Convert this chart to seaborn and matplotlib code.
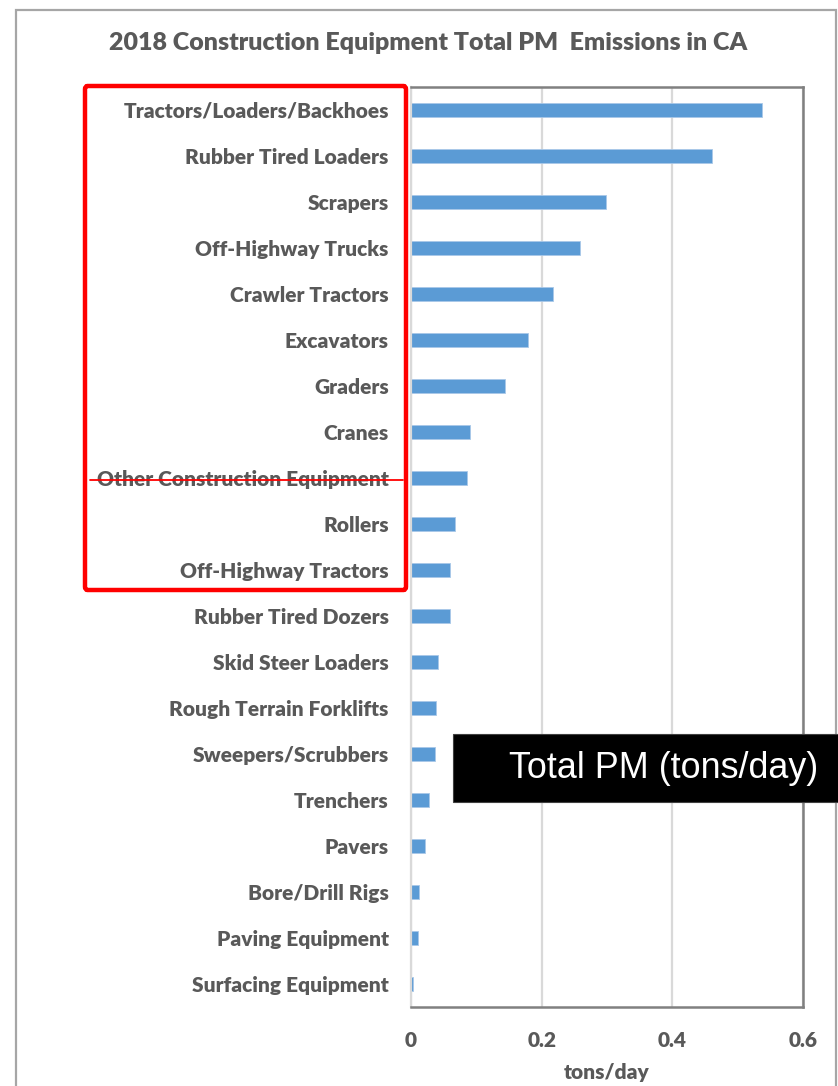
import matplotlib
matplotlib.use("Agg")
import matplotlib.pyplot as plt
import seaborn as sns
import pandas as pd
from matplotlib.patches import Rectangle, FancyBboxPatch
from matplotlib.lines import Line2D

categories = [
    "Tractors/Loaders/Backhoes", "Rubber Tired Loaders", "Scrapers",
    "Off-Highway Trucks", "Crawler Tractors", "Excavators", "Graders",
    "Cranes", "Other Construction Equipment", "Rollers",
    "Off-Highway Tractors", "Rubber Tired Dozers", "Skid Steer Loaders",
    "Rough Terrain Forklifts", "Sweepers/Scrubbers", "Trenchers", "Pavers",
    "Bore/Drill Rigs", "Paving Equipment", "Surfacing Equipment",
]
values = [0.538, 0.461, 0.299, 0.258, 0.218, 0.179, 0.144, 0.091, 0.086,
          0.067, 0.060, 0.059, 0.041, 0.038, 0.036, 0.027, 0.022, 0.012,
          0.010, 0.003]
xticks = [0, 0.2, 0.4, 0.6]
xtick_labels = ["0", "0.2", "0.4", "0.6"]

df = pd.DataFrame({"equipment": categories, "pm": values})

sns.set_theme(style="white")
plt.rcParams["font.family"] = ["Lato", "DejaVu Sans"]

W, H = 838, 1086
fig = plt.figure(figsize=(W / 100, H / 100), dpi=100)
fig.patch.set_facecolor("white")

L, R, T, B = 411, 803, 87, 1007
ax = fig.add_axes([L / W, 1 - B / H, (R - L) / W, (B - T) / H])

sns.barplot(data=df, x="pm", y="equipment", orient="h", color="#5B9BD5",
            saturation=1, width=0.32, ax=ax, edgecolor="#A9C8E8", linewidth=0.6)

WEIGHT = "heavy"
ax.set_xlim(0, 0.6)
ax.set_xticks(xticks)
ax.set_xticklabels(xtick_labels)
ax.xaxis.grid(True, color="#D9D9D9", linewidth=1.6)
ax.set_axisbelow(True)
ax.set_ylabel("")
ax.set_xlabel("tons/day", fontsize=15, fontweight=WEIGHT, color="#595959", labelpad=10)
ax.tick_params(axis="both", length=0, colors="#595959")
ax.tick_params(axis="y", pad=16)
ax.tick_params(axis="x", pad=17)
for lab in ax.get_yticklabels():
    lab.set_fontsize(15.0)
    lab.set_fontweight(WEIGHT)
    lab.set_color("#595959")
for lab in ax.get_xticklabels():
    lab.set_fontsize(15.0)
    lab.set_fontweight(WEIGHT)
    lab.set_color("#595959")

for side in ["top", "right", "bottom"]:
    ax.spines[side].set_color("#808080")
    ax.spines[side].set_linewidth(1.8)
ax.spines["left"].set_color("#D9D9D9")
ax.spines["left"].set_linewidth(1.6)

# Title
fig.text(428 / W, 1 - 43 / H, "2018 Construction Equipment Total PM  Emissions in CA",
         ha="center", va="center", fontsize=18, fontweight=WEIGHT, color="#595959")

# Outer chart border
fig.patches.append(Rectangle((16 / W, -0.01), (836 - 16) / W, 1 - 10 / H + 0.01,
                             transform=fig.transFigure, fill=False,
                             edgecolor="#A6A6A6", linewidth=1.6))

# Red highlight box
fig.patches.append(FancyBboxPatch((85 / W, 1 - 590 / H), (406 - 85) / W, (590 - 86) / H,
                                  boxstyle="round,pad=0,rounding_size=0.003",
                                  transform=fig.transFigure, fill=False,
                                  edgecolor="#FF0000", linewidth=3.2))

# Strike-through line
fig.lines.append(Line2D([90 / W, 403 / W], [1 - 480 / H, 1 - 480 / H],
                        transform=fig.transFigure, color="#FF0000", linewidth=1.3))

# Black annotation box
fig.patches.append(Rectangle((453 / W, 1 - 802 / H), (845 - 453) / W, (802 - 734) / H,
                             transform=fig.transFigure, facecolor="black",
                             edgecolor="#404040", linewidth=0.8))
fig.text(664 / W, 1 - 768 / H, "Total PM (tons/day)", ha="center", va="center",
         fontsize=25.8, color="white", family=["Liberation Sans", "DejaVu Sans"])

fig.savefig("out.png", dpi=100, facecolor="white")
